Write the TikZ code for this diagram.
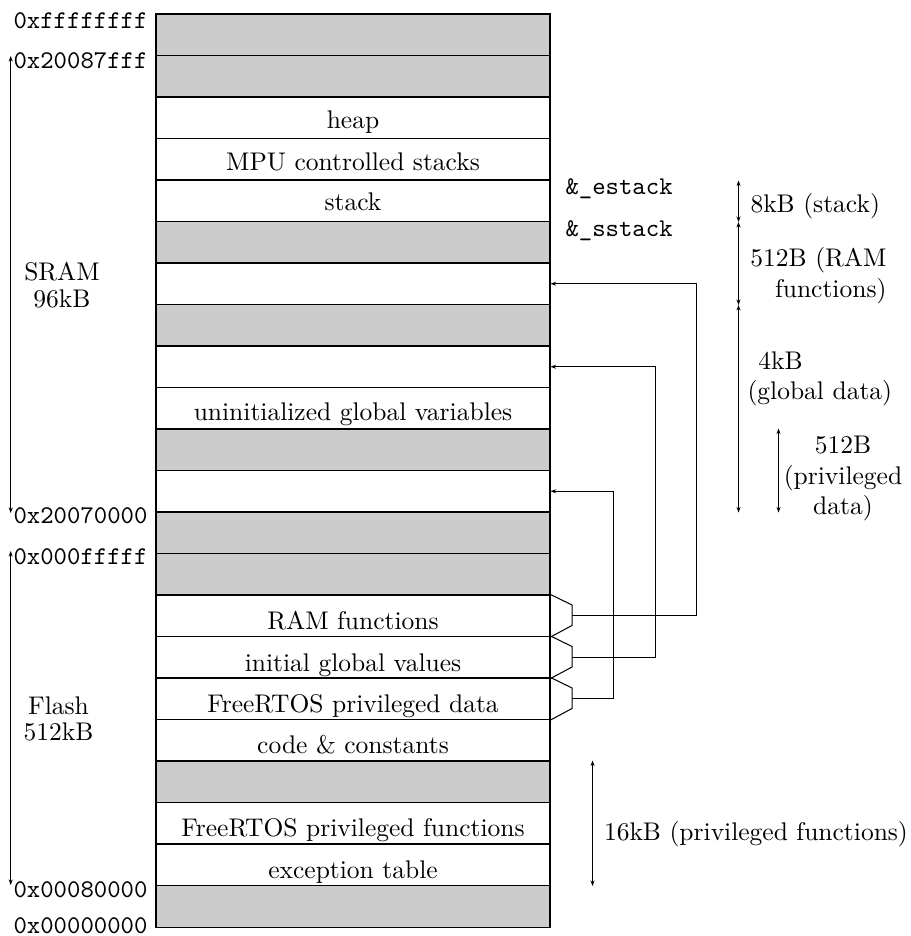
\documentclass[tikz,border=0pt]{standalone}
\usetikzlibrary{calc,arrows.meta}
\tikzset{
  region/.style={draw, line width=0.4pt, minimum width=154.45pt, minimum height=16.27pt,
    inner sep=0pt, anchor=center},
  free/.style={region, fill=gray!40},
  used/.style={region, fill=white},
  addr/.style={anchor=base east, inner sep=0pt, font=\ttfamily},
  sym/.style={anchor=base west, inner sep=0pt, font=\ttfamily},
  note/.style={inner sep=0pt},
  tip/.tip={Stealth[length=2.2pt,width=1.6pt]},
  ptr/.style={-tip},
  extent/.style={tip-tip},
}
\begin{document}
\begin{tikzpicture}[x=0.392pt,y=-0.392pt]
\useasboundingbox (0,0) rectangle (910,936);

% memory regions, top (high addresses) to bottom
\foreach \i/\k/\d/\t in {
  1/free/9/{}, 2/free/9/{}, 3/used/10/heap, 4/used/10/MPU controlled stacks,
  5/used/11/stack, 6/free/9/{}, 7/used/9/{}, 8/free/9/{}, 9/used/9/{},
  10/used/9/uninitialized global variables, 11/free/9/{}, 12/used/9/{},
  13/free/9/{}, 14/free/9/{}, 15/used/7/RAM functions,
  16/used/7/initial global values, 17/used/7/FreeRTOS privileged data,
  18/used/8/code \& constants, 19/free/9/{}, 20/used/8/FreeRTOS privileged functions,
  21/used/7/exception table, 22/free/9/{}}
{
  \pgfmathsetmacro\dpt{\d*0.392}
  \pgfmathsetmacro\htt{(41.5-\d)*0.392}
  \node[\k, text depth=\dpt pt, text height=\htt pt] (r\i) at (353,{14+(\i-0.5)*41.5}) {\t};
}

% addresses
\node[addr] (a1) at (148,28.5) {0xffffffff};
\node[addr] (a2) at (148,68.5) {0x20087fff};
\node[addr] (a3) at (148,523) {0x20070000};
\node[addr] (a4) at (148,564) {0x000fffff};
\node[addr] (a5) at (148,897) {0x00080000};
\node[addr] (a6) at (148,933) {0x00000000};

% SRAM and Flash extents
\coordinate (s1) at (10.7,56);
\coordinate (s2) at (10.7,513);
\coordinate (f1) at (10.7,551);
\coordinate (f2) at (10.7,885);
\draw[extent] (s1) -- (s2);
\draw[extent] (f1) -- (f2);
\node[note, align=center] (sram) at (62,285) {SRAM\\[-1.5pt]96kB};
\node[note, align=center] (flash) at (58.5,719) {Flash\\[-1.5pt]512kB};

% stack symbols
\node[sym] (es) at (565,194.5) {\&\_estack};
\node[sym] (ss) at (565,236.5) {\&\_sstack};

% sizes on the right
\coordinate (d0) at ($(r4.south east)+(188,0)$);
\coordinate (d1) at ($(r5.south east)+(188,0)$);
\coordinate (d2) at ($(r7.south east)+(188,0)$);
\coordinate (d3) at ($(r12.south east)+(188,0)$);
\draw[extent] (d0) -- (d1);
\draw[extent] (d1) -- (d2);
\draw[extent] (d2) -- (d3);
\coordinate (p0) at ($(r11.north east)+(228,0)$);
\coordinate (p1) at ($(r12.south east)+(228,0)$);
\draw[extent] (p0) -- (p1);
\coordinate (k0) at ($(r19.north east)+(42,0)$);
\coordinate (k1) at ($(r21.south east)+(42,0)$);
\draw[extent] (k0) -- (k1);

\node[note, anchor=base west] (l8k) at (750,212.5) {8kB (stack)};
\node[note, anchor=east, align=right] (l512r) at (887,275.5) {512B (RAM\\functions)};
\node[note, anchor=west, align=left] (l4k) at (747,379) {\hspace{4.3pt}4kB\\(global data)};
\node[note, align=center] (l512p) at (843,478.5) {512B\\(privileged\\data)};
\node[note, anchor=base west] (l16k) at (603.5,840) {16kB (privileged functions)};

% load regions copied into RAM at startup
\foreach \src/\dst/\x in {15/7/696, 16/9/654.7, 17/12/612.7}{
  \draw (r\src.north east) -- ($(r\src.north east)+(21.5,10.5)$)
        -- ($(r\src.north east)+(21.5,31)$) -- (r\src.south east);
  \coordinate (t\src) at ($(r\src.east)+(21.5,0)$);
  \coordinate (c\src) at ($(r\dst.east)+(\x-550,0)$);
  \draw[ptr] (t\src) -| (c\src) -- (r\dst.east);
}
\end{tikzpicture}
\end{document}
